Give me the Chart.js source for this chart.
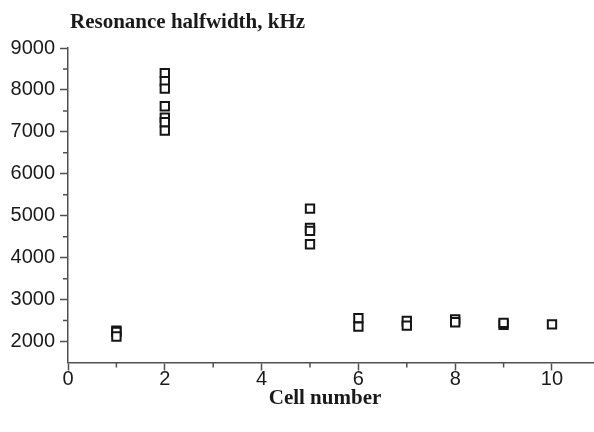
<!DOCTYPE html>
<html>
<head>
<meta charset="utf-8">
<script src="https://cdn.jsdelivr.net/npm/chart.js@4/dist/chart.umd.min.js"></script>
<style>
html,body{margin:0;padding:0;background:#fff;overflow:hidden;}
#wrap{position:relative;width:594px;height:432px;overflow:hidden;}
#c{display:block;}
</style>
</head>
<body>
<div id="wrap"><canvas id="c" width="602" height="432"></canvas></div>
<script>
// Data
const cellNumbers = [1, 1, 1, 2, 2, 2, 2, 2, 2, 2, 5, 5, 5, 5, 6, 6, 7, 7, 8, 8, 9, 9, 10];
const halfwidths  = [2260, 2230, 2120, 8400, 8210, 8030, 7610, 7340, 7230, 7030, 5170, 4710, 4640, 4320, 2560, 2355, 2490, 2380, 2530, 2460, 2400, 2445, 2410];
const xTickLabels = ['0', '2', '4', '6', '8', '10'];
const yTickLabels = ['2000', '3000', '4000', '5000', '6000', '7000', '8000', '9000'];
const chartTitle = 'Resonance halfwidth, kHz';
const xAxisTitle = 'Cell number';

const axisColor = '#505050';
const textColor = '#1a1a1a';

const points = cellNumbers.map((x, i) => ({x: x, y: halfwidths[i]}));

const overlay = {
  id: 'overlay',
  afterDraw(chart) {
    const ctx = chart.ctx;
    const xs = chart.scales.x, ys = chart.scales.y;
    const ca = chart.chartArea;
    ctx.save();
    // minor ticks
    ctx.strokeStyle = axisColor;
    ctx.lineWidth = 1.5;
    ctx.beginPath();
    xs.ticks.forEach(t => {
      if (!xTickLabels.includes(String(t.value))) {
        const px = xs.getPixelForValue(t.value);
        ctx.moveTo(px, ca.bottom);
        ctx.lineTo(px, ca.bottom + 5);
      }
    });
    ys.ticks.forEach(t => {
      if (!yTickLabels.includes(String(t.value)) && t.value > ys.min) {
        const py = ys.getPixelForValue(t.value);
        ctx.moveTo(ca.left - 5, py);
        ctx.lineTo(ca.left, py);
      }
    });
    ctx.stroke();
    // titles
    ctx.fillStyle = textColor;
    ctx.font = 'bold 21px "Liberation Serif", serif';
    ctx.textAlign = 'left';
    ctx.textBaseline = 'alphabetic';
    ctx.fillText(chartTitle, 70, 28);
    ctx.textAlign = 'center';
    ctx.fillText(xAxisTitle, 325, 404);
    ctx.restore();
  }
};

new Chart(document.getElementById('c'), {
  type: 'scatter',
  data: {
    datasets: [{
      data: points,
      pointStyle: 'rect',
      pointRadius: 5.9,
      pointHoverRadius: 5.9,
      pointBorderWidth: 2,
      pointBorderColor: '#151515',
      pointBackgroundColor: '#ffffff'
    }]
  },
  options: {
    responsive: false,
    animation: false,
    events: [],
    layout: {padding: {top: 48, right: 0, bottom: 0, left: 0}},
    plugins: {legend: {display: false}, tooltip: {enabled: false}, title: {display: false}},
    scales: {
      x: {
        type: 'linear',
        min: 0,
        max: 10.87,
        afterFit(s) { s.height = 69.5; },
        border: {color: axisColor, width: 1.5},
        grid: {
          drawOnChartArea: false,
          drawTicks: true,
          tickLength: 8,
          tickWidth: 1.5,
          tickColor: (c) => (c.tick && xTickLabels.includes(String(c.tick.value))) ? axisColor : 'rgba(0,0,0,0)'
        },
        ticks: {
          stepSize: 1,
          includeBounds: false,
          autoSkip: false,
          maxRotation: 0,
          padding: -3,
          color: textColor,
          font: {family: '"Liberation Sans", Arial, sans-serif', size: 20},
          callback: (v) => xTickLabels.includes(String(v)) ? String(v) : ''
        },
        title: {display: false}
      },
      y: {
        type: 'linear',
        min: 1500,
        max: 9000,
        afterFit(s) { s.width = 68; },
        border: {color: axisColor, width: 1.5},
        grid: {
          drawOnChartArea: false,
          drawTicks: true,
          tickLength: 8,
          tickWidth: 1.5,
          tickColor: (c) => (c.tick && yTickLabels.includes(String(c.tick.value))) ? axisColor : 'rgba(0,0,0,0)'
        },
        ticks: {
          stepSize: 500,
          autoSkip: false,
          padding: 5,
          color: textColor,
          font: {family: '"Liberation Sans", Arial, sans-serif', size: 20},
          callback: (v) => yTickLabels.includes(String(v)) ? String(v) : ''
        }
      }
    }
  },
  plugins: [overlay]
});
</script>
</body>
</html>
